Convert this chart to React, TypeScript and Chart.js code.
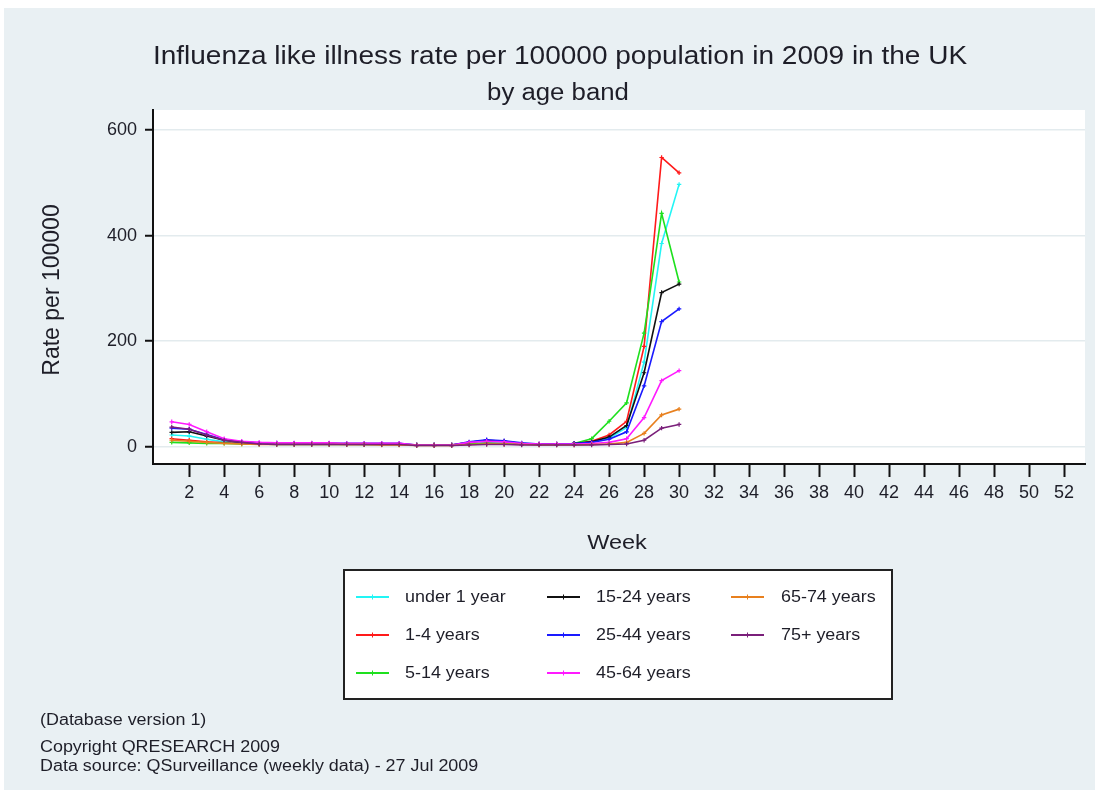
import React, { useEffect, useRef } from "react";
import { Chart, registerables } from "chart.js";

Chart.register(...registerables);

const TITLE = "Influenza like illness rate per 100000 population in 2009 in the UK";
const SUBTITLE = "by age band";
const Y_TITLE = "Rate per 100000";
const X_TITLE = "Week";
const FOOTNOTES = [
  "(Database version 1)",
  "Copyright QRESEARCH 2009",
  "Data source: QSurveillance (weekly data) - 27 Jul 2009",
];

const WEEKS = [
  1, 2, 3, 4, 5, 6, 7, 8, 9, 10, 11, 12, 13, 14, 15, 16, 17, 18, 19, 20, 21, 22, 23, 24, 25, 26, 27, 28, 29, 30,
];
const X_TICKS = [2, 4, 6, 8, 10, 12, 14, 16, 18, 20, 22, 24, 26, 28, 30, 32, 34, 36, 38, 40, 42, 44, 46, 48, 50, 52];
const Y_TICKS = [0, 200, 400, 600];

const LABELS = [
  "under 1 year",
  "1-4 years",
  "5-14 years",
  "15-24 years",
  "25-44 years",
  "45-64 years",
  "65-74 years",
  "75+ years",
];
const COLORS = ["#22f5f5", "#ff1a1a", "#1ee01e", "#111111", "#1a1aff", "#ff1aff", "#e8801e", "#7a1f7a"];

const UNDER1 = [22, 20, 14, 9, 7, 5, 5, 5, 5, 5, 5, 4, 4, 4, 3, 3, 3, 6, 7, 6, 5, 4, 4, 5, 9, 16, 36, 160, 385, 497];
const Y1_4 = [15, 12, 9, 7, 6, 5, 5, 5, 5, 5, 4, 4, 4, 4, 3, 3, 3, 5, 6, 5, 5, 4, 4, 6, 10, 22, 48, 190, 548, 519];
const Y5_14 = [8, 7, 6, 6, 5, 5, 4, 4, 4, 4, 4, 4, 4, 4, 3, 3, 3, 5, 6, 6, 5, 4, 4, 6, 15, 48, 83, 215, 442, 312];
const Y15_24 = [27, 28, 20, 12, 8, 6, 6, 6, 6, 6, 5, 5, 5, 5, 3, 3, 3, 8, 12, 10, 6, 5, 5, 6, 9, 18, 40, 140, 292, 308];
const Y25_44 = [35, 33, 23, 13, 9, 7, 7, 6, 6, 6, 6, 6, 6, 6, 3, 3, 3, 9, 13, 11, 7, 5, 5, 6, 8, 14, 28, 115, 237, 261];
const Y45_64 = [47, 42, 28, 15, 10, 8, 7, 7, 7, 7, 6, 6, 6, 6, 3, 3, 3, 8, 10, 9, 6, 5, 5, 5, 6, 8, 15, 55, 125, 144];
const Y65_74 = [12, 10, 8, 6, 5, 4, 4, 4, 4, 4, 4, 4, 3, 3, 2, 2, 2, 4, 5, 5, 4, 3, 3, 3, 4, 5, 8, 25, 60, 71];
const Y75P = [37, 33, 22, 12, 8, 5, 4, 4, 4, 4, 4, 4, 4, 4, 2, 2, 2, 3, 4, 4, 3, 3, 3, 3, 3, 4, 5, 12, 35, 42];

const SERIES = [UNDER1, Y1_4, Y5_14, Y15_24, Y25_44, Y45_64, Y65_74, Y75P];

const FONT = '"Liberation Sans", Arial, sans-serif';
const PAGE_BG = "#e9f0f3";
const GRID = "#e3ebee";
const TEXT = "#1e1e28";
const SX = 1.12;

function drawText(
  ctx: CanvasRenderingContext2D,
  text: string,
  x: number,
  y: number,
  size: number,
  align: CanvasTextAlign,
  baseline: CanvasTextBaseline,
  sx = SX,
  rotate = false
) {
  ctx.save();
  ctx.translate(x, y);
  if (rotate) ctx.rotate(-Math.PI / 2);
  ctx.scale(sx, 1);
  ctx.font = `${size}px ${FONT}`;
  ctx.fillStyle = TEXT;
  ctx.textAlign = align;
  ctx.textBaseline = baseline;
  ctx.fillText(text, 0, 0);
  ctx.restore();
}

const decorPlugin = {
  id: "decor",
  beforeDraw(chart: any) {
    const ctx = chart.ctx as CanvasRenderingContext2D;
    const a = chart.chartArea;
    ctx.save();
    ctx.fillStyle = "#ffffff";
    ctx.fillRect(0, 0, chart.width, chart.height);
    ctx.fillStyle = PAGE_BG;
    ctx.fillRect(4, 8, 1091, 782);
    ctx.fillStyle = "#ffffff";
    ctx.fillRect(a.left, a.top, a.right - a.left, a.bottom - a.top);
    ctx.restore();
  },
  afterDraw(chart: any) {
    const ctx = chart.ctx as CanvasRenderingContext2D;
    drawText(ctx, TITLE, 560, 64, 25, "center", "alphabetic");
    drawText(ctx, SUBTITLE, 558, 100, 23, "center", "alphabetic");
    drawText(ctx, Y_TITLE, 53, 290, 23, "center", "middle", 1, true);
    drawText(ctx, X_TITLE, 617, 549, 21, "center", "alphabetic");

    // legend box
    ctx.save();
    ctx.fillStyle = "#ffffff";
    ctx.fillRect(344, 570, 548, 129);
    ctx.strokeStyle = "#222222";
    ctx.lineWidth = 2;
    ctx.strokeRect(344, 570, 548, 129);
    ctx.restore();

    const colLine = [356, 547, 731];
    const colText = [405, 596, 781];
    const rowY = [597, 635, 673];
    chart.data.datasets.forEach((ds: any, i: number) => {
      const c = Math.floor(i / 3);
      const r = i % 3;
      const y = rowY[r];
      ctx.save();
      ctx.strokeStyle = ds.borderColor;
      ctx.lineWidth = 2;
      ctx.beginPath();
      ctx.moveTo(colLine[c], y);
      ctx.lineTo(colLine[c] + 33, y);
      ctx.stroke();
      ctx.lineWidth = 1;
      ctx.beginPath();
      ctx.moveTo(colLine[c] + 16.5, y - 2.5);
      ctx.lineTo(colLine[c] + 16.5, y + 2.5);
      ctx.stroke();
      ctx.restore();
      drawText(ctx, ds.label, colText[c], y + 1, 16, "left", "middle");
    });

    drawText(ctx, FOOTNOTES[0], 40, 721, 16, "left", "middle");
    drawText(ctx, FOOTNOTES[1], 40, 748, 16, "left", "middle");
    drawText(ctx, FOOTNOTES[2], 40, 767, 16, "left", "middle");
  },
};

export default function App() {
  const ref = useRef<HTMLCanvasElement | null>(null);

  useEffect(() => {
    if (!ref.current) return;
    const chart = new Chart(ref.current, {
      type: "line",
      data: {
        datasets: SERIES.map((vals, i) => ({
          label: LABELS[i],
          data: WEEKS.map((w, j) => ({ x: w, y: vals[j] })),
          borderColor: COLORS[i],
          backgroundColor: COLORS[i],
          borderWidth: 1.6,
          pointStyle: "cross",
          pointRadius: 2.2,
          pointBorderWidth: 1.2,
          pointBorderColor: COLORS[i],
          tension: 0,
          fill: false,
          order: SERIES.length - i,
        })),
      },
      options: {
        responsive: false,
        animation: false,
        devicePixelRatio: 1,
        layout: { padding: { left: 0, right: 13, top: 110, bottom: 0 } },
        plugins: {
          legend: { display: false },
          tooltip: { enabled: false },
          title: { display: false },
        },
        scales: {
          x: {
            type: "linear",
            min: -0.07,
            max: 53.2,
            afterBuildTicks: (s: any) => {
              s.ticks = X_TICKS.map((v) => ({ value: v }));
            },
            afterFit: (s: any) => {
              s.height = 796 - 464;
            },
            ticks: {
              autoSkip: false,
              maxRotation: 0,
              minRotation: 0,
              padding: 5,
              color: TEXT,
              font: { family: FONT, size: 18 },
            },
            grid: {
              drawOnChartArea: false,
              drawTicks: true,
              tickLength: 13,
              tickColor: "#111111",
              tickWidth: 2,
            },
            border: { color: "#111111", width: 2 },
          },
          y: {
            type: "linear",
            min: -33,
            max: 638,
            afterBuildTicks: (s: any) => {
              s.ticks = Y_TICKS.map((v) => ({ value: v }));
            },
            afterFit: (s: any) => {
              s.width = 153;
            },
            ticks: {
              padding: 8,
              color: TEXT,
              font: { family: FONT, size: 18 },
            },
            grid: {
              color: GRID,
              lineWidth: 1.5,
              drawTicks: true,
              tickLength: 8,
              tickColor: "#111111",
              tickWidth: 2,
            },
            border: { color: "#111111", width: 2 },
          },
        },
      },
      plugins: [decorPlugin],
    });
    return () => chart.destroy();
  }, []);

  return (
    <div style={{ position: "absolute", left: 0, top: 0, width: 1098, height: 796 }}>
      <canvas ref={ref} width={1098} height={796} style={{ display: "block", width: 1098, height: 796 }} />
    </div>
  );
}
